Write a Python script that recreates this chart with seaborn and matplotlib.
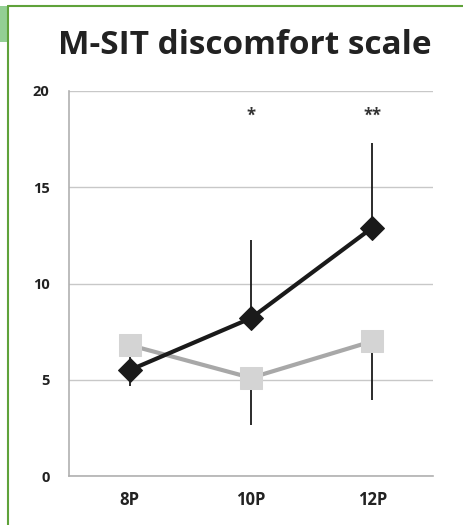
import numpy as np
import pandas as pd
import matplotlib
matplotlib.use("Agg")
import matplotlib.pyplot as plt
import seaborn as sns
from matplotlib.lines import Line2D
from matplotlib.patches import Rectangle

categories = ["8P", "10P", "12P"]
black_vals = [5.5, 8.2, 12.9]
black_err_low = [0.8, 0.0, 0.0]
black_err_high = [0.8, 4.05, 4.4]
gray_vals = [6.8, 5.1, 7.0]
gray_err_low = [0.0, 2.45, 3.05]
gray_err_high = [0.0, 0.0, 0.0]
stars = ["", "*", "**"]
star_y = 18.7
yticks = [0, 5, 10, 15, 20]

sns.set_theme(style="white")
plt.rcParams["font.family"] = ["Open Sans", "DejaVu Sans"]

fig = plt.figure(figsize=(4.64, 5.25), dpi=100)
ax = fig.add_axes([69/464, 49/525, (433-69)/464, (476-91)/525])

xpos = np.arange(len(categories))
df = pd.DataFrame({
    "x": np.concatenate([xpos, xpos]),
    "value": black_vals + gray_vals,
    "series": ["A"] * 3 + ["B"] * 3,
})

# error bars (behind)
ax.errorbar(xpos, black_vals, yerr=[black_err_low, black_err_high], fmt="none",
            ecolor="#1a1a1a", elinewidth=1.3, capsize=0, zorder=1)
ax.errorbar(xpos, gray_vals, yerr=[gray_err_low, gray_err_high], fmt="none",
            ecolor="#1a1a1a", elinewidth=1.3, capsize=0, zorder=1)

sns.lineplot(data=df[df.series == "B"], x="x", y="value", ax=ax, color="#a8a8a8",
             linewidth=3, marker="s", markersize=16, markerfacecolor="#d4d4d4",
             markeredgecolor="#d4d4d4", zorder=2, legend=False)
sns.lineplot(data=df[df.series == "A"], x="x", y="value", ax=ax, color="#1a1a1a",
             linewidth=3, marker="D", markersize=12, markerfacecolor="#1a1a1a",
             markeredgecolor="#1a1a1a", zorder=3, legend=False)

for x, s in zip(xpos, stars):
    if s:
        ax.text(x, star_y, s, ha="center", va="center", fontsize=12,
                fontweight="bold", color="#333333")

ax.set_xlim(-0.5, len(categories) - 0.5)
ax.set_ylim(0, 20)
ax.set_yticks(yticks)
ax.set_yticklabels([str(v) for v in yticks], fontsize=10.5, fontweight="bold", color="#222222")
ax.set_xticks(np.arange(-0.5, len(categories), 1.0))
ax.set_xticklabels([])
ax.set_xticks(xpos, minor=True)
ax.set_xticklabels(categories, minor=True, fontsize=12, fontweight="bold", color="#222222")
ax.tick_params(axis="x", which="major", direction="out", length=6, color="#b0b0b0", width=1)
ax.tick_params(axis="x", which="minor", length=0, pad=11)
ax.tick_params(axis="y", direction="out", length=6, color="#b0b0b0", width=1, pad=8)
ax.set_xlabel("")
ax.set_ylabel("")

ax.grid(axis="y", color="#c8c8c8", linewidth=1)
ax.grid(axis="x", visible=False)
ax.set_axisbelow(True)
for side in ["top", "right"]:
    ax.spines[side].set_visible(False)
for side in ["left", "bottom"]:
    ax.spines[side].set_color("#b0b0b0")
    ax.spines[side].set_linewidth(1.2)

fig.text(245/464, 1 - 46/525, "M-SIT discomfort scale", ha="center", va="center",
         fontsize=24, fontweight="bold", color="#222222")

# green frame
fig.add_artist(Rectangle((0, 1 - 42/525), 7/464, 36/525, transform=fig.transFigure,
                         facecolor="#93cf93", edgecolor="none"))
fig.add_artist(Line2D([8/464, 8/464], [0, 1 - 6/525], transform=fig.transFigure,
                      color="#5fa23a", linewidth=1.5))
fig.add_artist(Line2D([8/464, 1], [1 - 6/525, 1 - 6/525], transform=fig.transFigure,
                      color="#5fa23a", linewidth=1.5))

fig.savefig("out.png", dpi=100, facecolor="white")
